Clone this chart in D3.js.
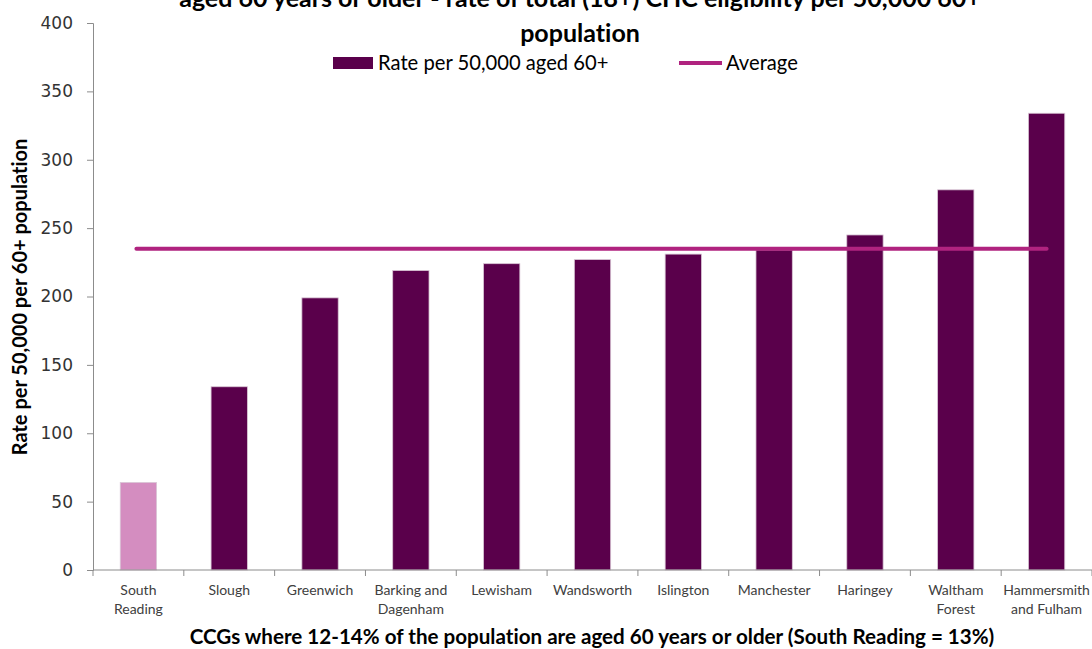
<!DOCTYPE html>
<html>
<head>
<meta charset="utf-8">
<script src="https://cdn.jsdelivr.net/npm/d3@7"></script>
<style>
  html, body { margin: 0; padding: 0; background: #fff; }
  svg { display: block; }
  text { font-variant-ligatures: none; }
</style>
</head>
<body>
<svg id="chart" width="1092" height="649"></svg>
<script>
// CHC eligibility rate per 50,000 population aged 60+, CCGs with 12-14% aged 60+
const categories = [
  ["South", "Reading"], ["Slough"], ["Greenwich"], ["Barking and", "Dagenham"],
  ["Lewisham"], ["Wandsworth"], ["Islington"], ["Manchester"], ["Haringey"],
  ["Waltham", "Forest"], ["Hammersmith", "and Fulham"]
];
const rates = [64, 134, 199, 219, 224, 227, 231, 234, 245, 278, 334];
const averageRate = 235;
const highlightIndex = 0; // South Reading
const yTicks = [0, 50, 100, 150, 200, 250, 300, 350, 400];
const titleLines = [
  "aged 60 years or older - rate of total (18+) CHC eligibility per 50,000 60+",
  "population"
];
const legendLabels = ["Rate per 50,000 aged 60+", "Average"];
const xTitle = "CCGs where 12-14% of the population are aged 60 years or older (South Reading = 13%)";
const yTitle = "Rate per 50,000 per 60+ population";

const svg = d3.select("#chart");
const margin = { left: 93, right: 0, top: 23, bottom: 79 };
const W = 1092, H = 649;
const font = "Lato, 'Open Sans', sans-serif";
const barColor = "#5A004B", highlightColor = "#D48DC0", avgColor = "#B0237F";

const x = d3.scaleBand()
  .domain(d3.range(categories.length))
  .range([margin.left, W - margin.right])
  .paddingInner(0.6).paddingOuter(0.3);
const y = d3.scaleLinear().domain([0, 400]).range([H - margin.bottom, margin.top]);

// Bars
svg.append("g").selectAll("rect")
  .data(rates)
  .join("rect")
  .attr("x", (d, i) => x(i))
  .attr("y", d => y(d))
  .attr("width", x.bandwidth())
  .attr("height", d => y(0) - y(d))
  .attr("fill", (d, i) => i === highlightIndex ? highlightColor : barColor)
  .attr("stroke", "#d9c6d5")
  .attr("stroke-width", 0.8);

// Average line across category centres
const cx = i => x(i) + x.bandwidth() / 2;
svg.append("line")
  .attr("x1", cx(0) - 2).attr("x2", cx(categories.length - 1))
  .attr("y1", y(averageRate)).attr("y2", y(averageRate))
  .attr("stroke", avgColor).attr("stroke-width", 4).attr("stroke-linecap", "round");

// Y axis
const yAxis = svg.append("g")
  .attr("transform", `translate(${margin.left},0)`)
  .call(d3.axisLeft(y).tickValues(yTicks).tickSize(6).tickPadding(14));
yAxis.select(".domain").attr("stroke", "#8c8c8c");
yAxis.selectAll(".tick line").attr("stroke", "#8c8c8c");
yAxis.selectAll(".tick text")
  .attr("font-family", "'DejaVu Sans', sans-serif")
  .attr("font-size", 17).attr("fill", "#333");

// X axis with boundary ticks between categories
const xAxisG = svg.append("g").attr("transform", `translate(0,${y(0)})`);
xAxisG.append("line")
  .attr("x1", margin.left).attr("x2", W).attr("stroke", "#8c8c8c");
const step = x.step();
const gap = (step - x.bandwidth()) / 2;
const boundaries = d3.range(categories.length + 1).map(i =>
  i < categories.length ? x(i) - gap : x(categories.length - 1) + x.bandwidth() + gap);
xAxisG.selectAll("line.b")
  .data(boundaries)
  .join("line")
  .attr("class", "b")
  .attr("x1", d => d).attr("x2", d => d)
  .attr("y1", 0).attr("y2", 6)
  .attr("stroke", "#8c8c8c");

const xl = svg.append("g").selectAll("text")
  .data(categories)
  .join("text")
  .attr("x", (d, i) => cx(i))
  .attr("y", y(0) + 25)
  .attr("text-anchor", "middle")
  .attr("font-family", font)
  .attr("font-size", 14)
  .attr("fill", "#404040");
xl.selectAll("tspan")
  .data(d => d)
  .join("tspan")
  .attr("x", function () { return d3.select(this.parentNode).attr("x"); })
  .attr("dy", (d, i) => i === 0 ? 0 : 19)
  .text(d => d);

// Axis titles
svg.append("text")
  .attr("x", 592).attr("y", 644)
  .attr("text-anchor", "middle")
  .attr("font-family", font).attr("font-weight", "bold")
  .attr("font-size", 20.6).attr("fill", "#000")
  .text(xTitle);

svg.append("text")
  .attr("transform", `translate(27,${297}) rotate(-90)`)
  .attr("text-anchor", "middle")
  .attr("font-family", font).attr("font-weight", "bold")
  .attr("font-size", 20).attr("fill", "#000")
  .text(yTitle);

// Title (first line runs past the top edge)
svg.append("g").selectAll("text")
  .data(titleLines)
  .join("text")
  .attr("x", 580)
  .attr("y", (d, i) => 7 + i * 35)
  .attr("text-anchor", "middle")
  .attr("font-family", font).attr("font-weight", "bold")
  .attr("font-size", 25).attr("fill", "#000")
  .text(d => d);

// Legend
const lg = svg.append("g");
lg.append("rect").attr("x", 333).attr("y", 57).attr("width", 40).attr("height", 12).attr("fill", barColor);
lg.append("text").attr("x", 378).attr("y", 70)
  .attr("font-family", font).attr("font-size", 20.2).attr("fill", "#000")
  .text(legendLabels[0]);
lg.append("line").attr("x1", 679).attr("x2", 722).attr("y1", 63).attr("y2", 63)
  .attr("stroke", avgColor).attr("stroke-width", 4);
lg.append("text").attr("x", 726).attr("y", 70)
  .attr("font-family", font).attr("font-size", 20.2).attr("fill", "#000")
  .text(legendLabels[1]);
</script>
</body>
</html>
